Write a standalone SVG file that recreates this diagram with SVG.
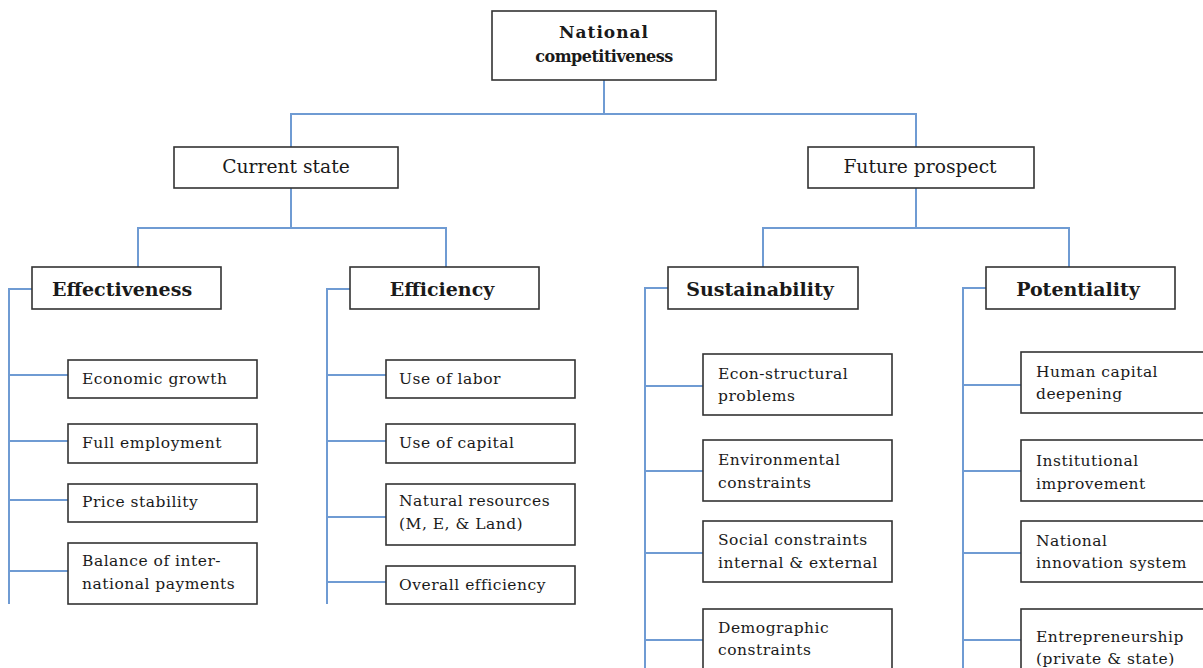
<svg xmlns="http://www.w3.org/2000/svg" width="1203" height="668" viewBox="0 0 1203 668">
<style>
.box{fill:#fff;stroke:#333;stroke-width:1.6}
.ln{fill:none;stroke:#6f9bd3;stroke-width:2}
text{font-family:"DejaVu Serif","Liberation Serif",serif;fill:#1a1a1a}
.t{font-size:15.5px;letter-spacing:0.5px}
.h{font-size:19px;font-weight:bold;text-anchor:middle}
.m{font-size:18.7px;text-anchor:middle}
.r{font-weight:bold;text-anchor:middle}
</style>
<rect width="1203" height="668" fill="#fff"/>
<g id="connectors" class="ln">
<path d="M604 80V114M291 147V114H916V147"/>
<path d="M291 188V228M138 268V228H446V268"/>
<path d="M916 188V228M763 268V228H1069V268"/>
<path d="M32 289H9V604M9 375H68M9 441H68M9 500H68M9 571H68"/>
<path d="M350 289H327V604M327 375H386M327 441H386M327 517H386M327 582H386"/>
<path d="M668 288H645V668M645 386H703M645 471H703M645 553H703M645 640H703"/>
<path d="M986 288H963V668M963 385H1021M963 471H1021M963 553H1021M963 640H1021"/>
</g>
<g id="root"><rect class="box" x="492" y="11" width="224" height="69"/><text class="r" x="604" y="38" style="font-size:17px;letter-spacing:1px">National</text><text class="r" x="604" y="62" style="font-size:16px;letter-spacing:-0.5px">competitiveness</text></g>
<g id="current"><rect class="box" x="174" y="147" width="224" height="41"/><text class="m" x="286" y="173">Current state</text></g>
<g id="future"><rect class="box" x="808" y="147" width="226" height="41"/><text class="m" x="920" y="173">Future prospect</text></g>
<g id="effectiveness"><rect class="box" x="32" y="267" width="189" height="42"/><text class="h" x="122" y="296">Effectiveness</text></g>
<g id="efficiency"><rect class="box" x="350" y="267" width="189" height="42"/><text class="h" x="442" y="296">Efficiency</text></g>
<g id="sustainability"><rect class="box" x="668" y="267" width="190" height="42"/><text class="h" x="760" y="296">Sustainability</text></g>
<g id="potentiality"><rect class="box" x="986" y="267" width="189" height="42"/><text class="h" x="1078" y="296">Potentiality</text></g>

<g id="econ-growth"><rect class="box" x="68" y="360" width="189" height="38"/><text class="t" x="82" y="384">Economic growth</text></g>
<g id="full-emp"><rect class="box" x="68" y="424" width="189" height="39"/><text class="t" x="82" y="448">Full employment</text></g>
<g id="price"><rect class="box" x="68" y="484" width="189" height="38"/><text class="t" x="82" y="507">Price stability</text></g>
<g id="balance"><rect class="box" x="68" y="543" width="189" height="61"/><text class="t" x="82" y="566">Balance of inter-</text><text class="t" x="82" y="589">national payments</text></g>

<g id="labor"><rect class="box" x="386" y="360" width="189" height="38"/><text class="t" x="399" y="384">Use of labor</text></g>
<g id="capital"><rect class="box" x="386" y="424" width="189" height="39"/><text class="t" x="399" y="448">Use of capital</text></g>
<g id="natural"><rect class="box" x="386" y="484" width="189" height="61"/><text class="t" x="399" y="506">Natural resources</text><text class="t" x="399" y="529">(M, E, &amp; Land)</text></g>
<g id="overall"><rect class="box" x="386" y="566" width="189" height="38"/><text class="t" x="399" y="590">Overall efficiency</text></g>

<g id="econ-struct"><rect class="box" x="703" y="354" width="189" height="61"/><text class="t" x="718" y="379">Econ-structural</text><text class="t" x="718" y="401">problems</text></g>
<g id="environ"><rect class="box" x="703" y="440" width="189" height="61"/><text class="t" x="718" y="465">Environmental</text><text class="t" x="718" y="488">constraints</text></g>
<g id="social"><rect class="box" x="703" y="521" width="189" height="61"/><text class="t" x="718" y="545">Social constraints</text><text class="t" x="718" y="568">internal &amp; external</text></g>
<g id="demo"><rect class="box" x="703" y="609" width="189" height="65"/><text class="t" x="718" y="633">Demographic</text><text class="t" x="718" y="655">constraints</text></g>

<g id="human"><rect class="box" x="1021" y="352" width="190" height="61"/><text class="t" x="1036" y="377">Human capital</text><text class="t" x="1036" y="399">deepening</text></g>
<g id="institutional"><rect class="box" x="1021" y="440" width="190" height="61"/><text class="t" x="1036" y="466">Institutional</text><text class="t" x="1036" y="489">improvement</text></g>
<g id="nis"><rect class="box" x="1021" y="521" width="190" height="61"/><text class="t" x="1036" y="546">National</text><text class="t" x="1036" y="568">innovation system</text></g>
<g id="entre"><rect class="box" x="1021" y="609" width="190" height="65"/><text class="t" x="1036" y="642">Entrepreneurship</text><text class="t" x="1036" y="664">(private &amp; state)</text></g>
</svg>
